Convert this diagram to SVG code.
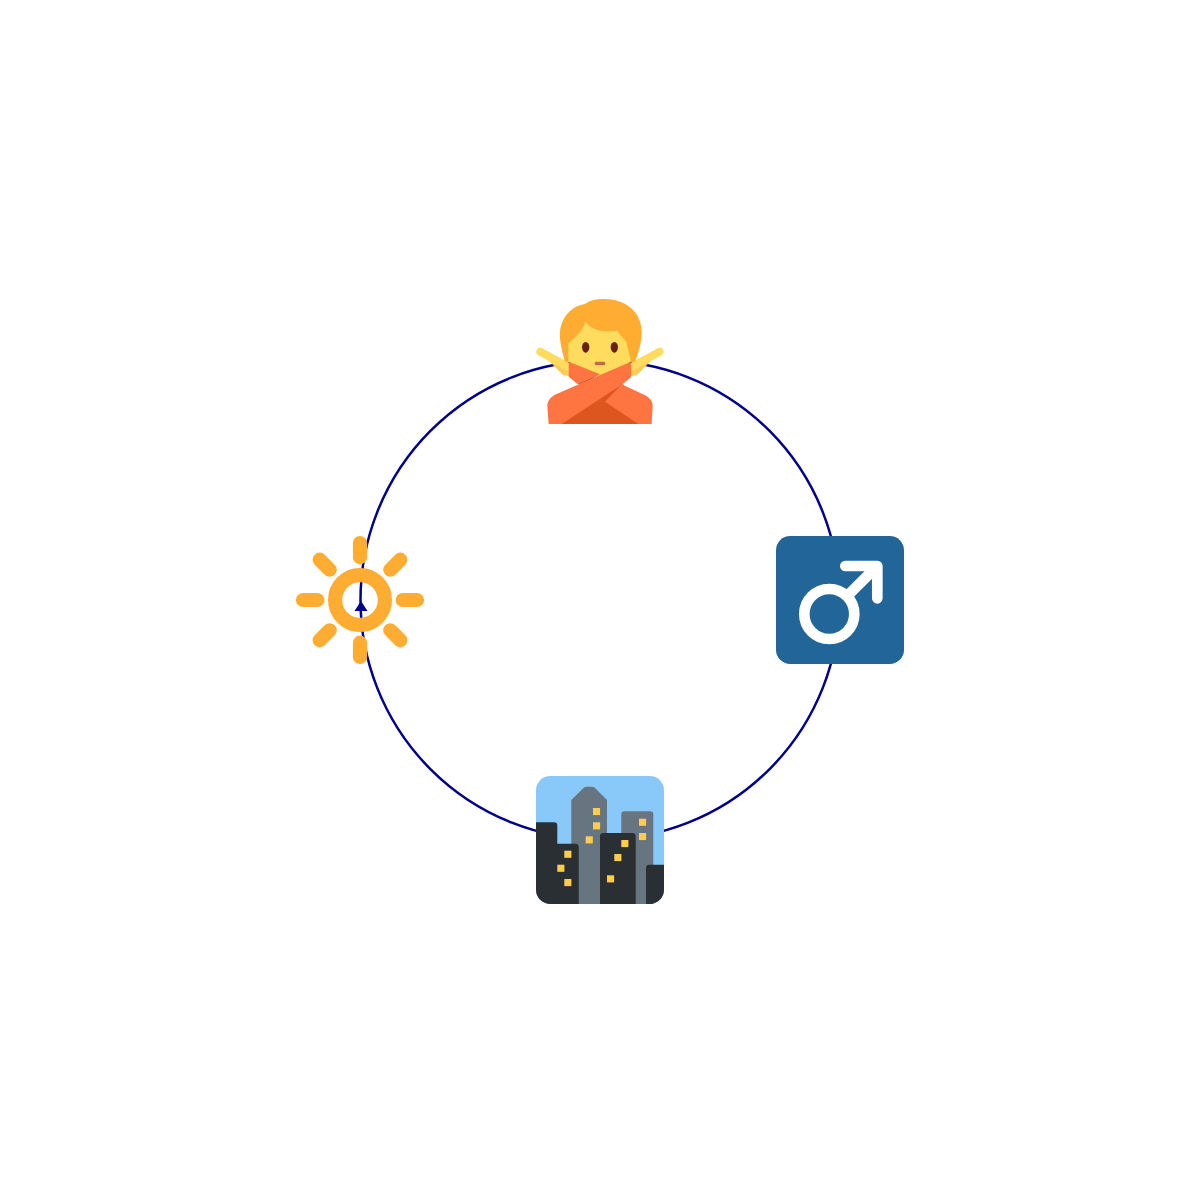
<svg xmlns="http://www.w3.org/2000/svg" width="1200" height="1200" viewBox="0 0 1200 1200">
<style>
.edge{fill:none;stroke:#00008b;stroke-width:2.500}
.ray{fill:none;stroke:#ffac33;stroke-width:14.200;stroke-linecap:round}
.win{fill:#ffcc4d;width:7.100px;height:7.100px}
.dark{fill:#292f33}
.grey{fill:#66757f}
.lit{fill:#ff7541}
.shade{fill:#dd551f}
</style>
<rect width="1200" height="1200" fill="#ffffff"/>
<g id="connectors">
<circle class="edge" cx="600" cy="600" r="239.500"/>
<path d="M361 601 L367.500 611 L354.500 611 Z" fill="#00008b"/>
</g>
<g id="node-person" transform="translate(520 290) scale(0.33333)">
<path fill="#f9ca55" d="M82 208 L145 222 L148 258 L130 256 Z M398 208 L335 222 L332 258 L350 256 Z"/>
<path fill="none" stroke="#ffdc5d" stroke-width="24" stroke-linecap="round" d="M61 185 L147 232 M419 185 L333 232"/>
<path fill="#ffac33" d="M135 215 C125 180 118 150 120 125 C125 80 155 48 195 42 C210 30 230 27 252 27 C315 27 365 65 365 125 C365 160 355 190 345 215 Z"/>
<path fill="#ffdc5d" d="M145 215 L145 160 C168 142 190 118 197 95 C215 122 255 128 292 122 C305 130 318 145 320 160 L333 215 L240 262 Z"/>
<path fill="#ffac33" d="M292 122 C302 120 310 135 318 155 C305 140 298 130 292 122 Z"/>
<ellipse cx="197" cy="172" rx="11" ry="16" fill="#662113"/>
<ellipse cx="283" cy="172" rx="11" ry="16" fill="#662113"/>
<rect x="224" y="215" width="32" height="11" rx="5.500" fill="#c1694f"/>
<path class="shade" d="M125 402 L180 300 L310 283 L355 402 Z"/>
<path class="lit" d="M146 215 L240 253 L172 281 L146 260 Z"/>
<path class="shade" d="M172 281 L238 253 L185 287 Z"/>
<path class="lit" d="M305 283 L372 314 C390 322 398 335 398 348 L395 402 L355 402 L255 335 Z"/>
<path class="lit" d="M333 215 L333 262 L307 283 L125 402 L86 402 L82 348 C82 335 90 320 110 312 L240 255 Z"/>
</g>
<g id="node-male">
<rect x="776" y="536" width="128" height="128" rx="14.200" fill="#226699"/>
<circle cx="829.300" cy="614" r="25" fill="none" stroke="#ffffff" stroke-width="10.670"/>
<path fill="none" stroke="#ffffff" stroke-width="10.670" stroke-linecap="round" stroke-linejoin="round" d="M845.300 566 H877.300 V598.300"/>
<path fill="none" stroke="#ffffff" stroke-width="10.670" d="M877.300 566 L848 595.300"/>
</g>
<g id="node-city">
<rect x="536" y="776" width="128" height="128" rx="14.200" fill="#88c9f9"/>
<path class="grey" d="M571.300 800 L584 787.500 Q585 786.700 587 786.700 H591.500 Q593.500 786.700 594.500 787.500 L607 800 V904 H571.300 Z"/>
<path class="grey" d="M621.300 814.500 Q621.300 811.300 624.500 811.300 H650.100 Q653.300 811.300 653.300 814.500 V904 H621.300 Z"/>
<path class="dark" d="M536 822.300 H554 Q557.300 822.300 557.300 825.500 V843.700 H575.500 Q578.700 843.700 578.700 847 V904 H550.200 A14.200 14.200 0 0 1 536 889.800 Z"/>
<path class="dark" d="M600 836.300 Q600 833 603.300 833 H632.500 Q635.700 833 635.700 836.300 V904 H600 Z"/>
<path class="dark" d="M646 868 Q646 864.700 649.200 864.700 H664 V889.800 A14.200 14.200 0 0 1 649.800 904 H646 Z"/>
<rect class="win" x="593" y="808"/>
<rect class="win" x="593" y="822.300"/>
<rect class="win" x="585.700" y="836.300"/>
<rect class="win" x="639" y="818.700"/>
<rect class="win" x="639" y="833"/>
<rect class="win" x="621.300" y="840"/>
<rect class="win" x="614.300" y="854"/>
<rect class="win" x="607" y="875.300"/>
<rect class="win" x="564.300" y="850.700"/>
<rect class="win" x="557.300" y="864.700"/>
<rect class="win" x="564.300" y="879"/>
</g>
<g id="node-sun">
<circle cx="360" cy="600" r="24.900" fill="none" stroke="#ffac33" stroke-width="14.200"/>
<path class="ray" d="M360 543 V557.300 M360 642.700 V657 M303 600 H317.300 M402.700 600 H417 M319.700 559.700 L329.700 569.700 M400.300 559.700 L390.300 569.700 M319.700 640.300 L329.700 630.300 M400.300 640.300 L390.300 630.300"/>
</g>
</svg>
